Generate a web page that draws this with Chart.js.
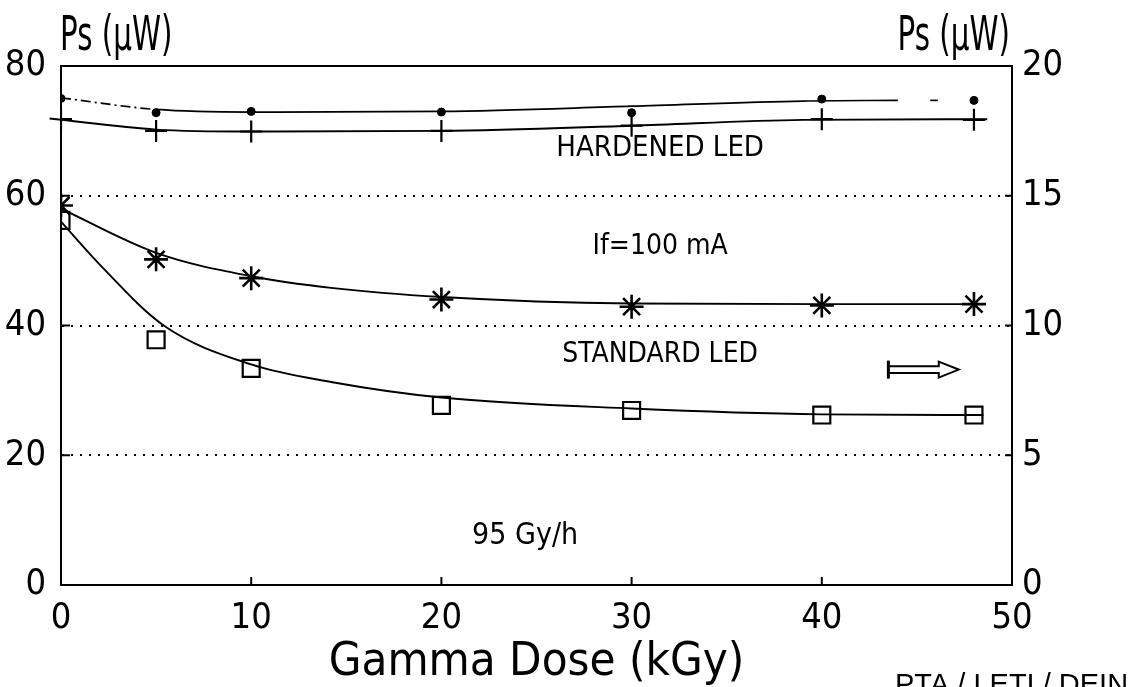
<!DOCTYPE html>
<html><head><meta charset="utf-8">
<script src="https://cdn.jsdelivr.net/npm/chart.js@4/dist/chart.umd.min.js"></script>
<style>html,body{margin:0;padding:0;background:#fff;overflow:hidden}#wrap{width:1128px;height:687px;position:relative}</style>
</head><body><div id="wrap"><canvas id="c" width="1128" height="687"></canvas></div>
<script>
// ---- data ----
const doseKGy = [0, 5, 10, 20, 30, 40, 48];
const hardenedDots = [75.0, 72.8, 73.0, 72.9, 72.8, 74.9, 74.7];
const hardenedCross = [71.8, 70.0, 69.9, 70.0, 70.8, 71.8, 71.7];
const standardStar = [58.5, 50.2, 47.3, 44.0, 42.9, 43.1, 43.3];
const standardSquare = [56.2, 37.8, 33.4, 27.7, 26.9, 26.2, 26.2];

const hardUpperFitX = [0, 5, 10, 20, 30, 39, 44, 45, 45.7, 46.1];
const hardUpperFitY = [75.1, 73.3, 72.9, 73.0, 73.8, 74.6, 74.7, null, 74.7, 74.7];
const hardLowerFitX = [-0.6, 5, 10, 20, 30, 39, 48.7];
const hardLowerFitY = [71.9, 70.2, 69.9, 70.0, 70.8, 71.7, 71.8];
const starFitX = [0, 5, 10, 14.2, 20, 30, 40, 48.5];
const starFitY = [58.0, 51.2, 47.6, 45.8, 44.4, 43.4, 43.3, 43.3];
const squareFitX = [0, 2, 5.4, 10, 14.2, 20, 30, 40, 48.5];
const squareFitY = [56.0, 49.5, 40.0, 34.0, 31.3, 28.9, 27.2, 26.3, 26.2];

const leftTicks = [0, 20, 40, 60, 80];
const rightTicks = [0, 5, 10, 15, 20];
const xTicks = [0, 10, 20, 30, 40, 50];
const xTitle = 'Gamma Dose (kGy)';
const yTitle = 'Ps (µW)';
const notes = ['HARDENED LED', 'If=100 mA', 'STANDARD LED', '95 Gy/h'];
const noteAt = [[31.5, 67.3], [31.5, 52.2], [31.5, 35.5], [24.4, 7.5]];
const arrowFrom = [43.5, 33.2];
const arrowTo = [47.2, 33.2];
const footer = 'PTA / LETI / DEIN';

const NARROW = "'Liberation Sans Narrow', 'DejaVu Sans Condensed', 'Arial Narrow', sans-serif";
const pts = (xs, ys) => xs.map((x, i) => ({x, y: ys[i]}));

const fitStyle = {pointRadius: 0, borderColor: '#000', borderWidth: 1.9, cubicInterpolationMode: 'monotone', spanGaps: false, fill: false};
const markStyle = {showLine: false, borderColor: '#000', backgroundColor: '#000'};

const extras = {
  id: 'extras',
  afterDraw(chart) {
    const {ctx, chartArea: ca, scales} = chart;
    const xs = scales.x, yl = scales.y, yr = scales.y1;
    ctx.save();
    ctx.strokeStyle = '#000'; ctx.fillStyle = '#000';
    // top frame
    ctx.lineWidth = 2;
    ctx.beginPath(); ctx.moveTo(ca.left - 1, ca.top); ctx.lineTo(ca.right + 1, ca.top); ctx.stroke();
    // inward ticks
    xs.ticks.forEach(t => { const p = xs.getPixelForValue(t.value); ctx.beginPath(); ctx.moveTo(p, ca.bottom); ctx.lineTo(p, ca.bottom - 8); ctx.stroke(); });
    yl.ticks.forEach(t => { const p = yl.getPixelForValue(t.value); ctx.beginPath(); ctx.moveTo(ca.left, p); ctx.lineTo(ca.left + 9, p); ctx.stroke(); });
    yr.ticks.forEach(t => { const p = yr.getPixelForValue(t.value); ctx.beginPath(); ctx.moveTo(ca.right, p); ctx.lineTo(ca.right - 7, p); ctx.stroke(); });
    // axis unit labels
    ctx.textBaseline = 'alphabetic';
    ctx.font = '48px ' + NARROW;
    ctx.save(); ctx.translate(ca.left - 1, 50); ctx.scale(0.68, 1);
    ctx.textAlign = 'left'; ctx.fillText(yTitle, 0, 0); ctx.restore();
    ctx.save(); ctx.translate(ca.right - 2, 50); ctx.scale(0.68, 1);
    ctx.textAlign = 'right'; ctx.fillText(yTitle, 0, 0); ctx.restore();
    // notes
    ctx.textAlign = 'center'; ctx.textBaseline = 'middle';
    const sizes = [29, 28, 28, 30];
    notes.forEach((n, i) => {
      ctx.font = sizes[i] + 'px ' + NARROW;
      ctx.fillText(n, xs.getPixelForValue(noteAt[i][0]), yl.getPixelForValue(noteAt[i][1]));
    });
    // hollow arrow
    const x0 = xs.getPixelForValue(arrowFrom[0]), xt = xs.getPixelForValue(arrowTo[0]);
    const yc = yl.getPixelForValue(arrowFrom[1]);
    const xh = xt - 20;
    ctx.lineWidth = 2;
    ctx.beginPath();
    ctx.moveTo(x0, yc - 3.3); ctx.lineTo(xh, yc - 3.3); ctx.lineTo(xh, yc - 8);
    ctx.lineTo(xt, yc); ctx.lineTo(xh, yc + 8); ctx.lineTo(xh, yc + 3.3); ctx.lineTo(x0, yc + 3.3);
    ctx.stroke();
    ctx.lineWidth = 3;
    ctx.beginPath(); ctx.moveTo(x0, yc - 9); ctx.lineTo(x0, yc + 9); ctx.stroke();
    // footer (cut at bottom edge)
    ctx.textAlign = 'left'; ctx.textBaseline = 'alphabetic';
    ctx.font = '29px "Liberation Sans", Arial, sans-serif';
    ctx.fillText(footer, 895, 694);
    ctx.restore();
  }
};

new Chart(document.getElementById('c'), {
  type: 'line',
  data: {
    datasets: [
      {...fitStyle, data: pts(hardUpperFitX, hardUpperFitY), borderWidth: 1.7,
        segment: {borderDash: c => c.p0DataIndex === 0 ? [10, 4, 2, 4] : undefined}},
      {...fitStyle, data: pts(hardLowerFitX, hardLowerFitY), clip: false},
      {...fitStyle, data: pts(starFitX, starFitY)},
      {...fitStyle, data: pts(squareFitX, squareFitY)},
      {...markStyle, data: pts(doseKGy, hardenedDots), pointStyle: 'circle', pointRadius: 4},
      {...markStyle, data: pts(doseKGy, hardenedCross), pointStyle: 'cross', pointRadius: 11, pointBorderWidth: 2.2},
      {...markStyle, data: pts(doseKGy, standardStar), pointStyle: 'star', pointRadius: 12, pointBorderWidth: 2.6},
      {...markStyle, data: pts(doseKGy, standardSquare), pointStyle: 'rect', pointRadius: 12, pointBorderWidth: 2.2, backgroundColor: 'rgba(0,0,0,0)'}
    ]
  },
  options: {
    responsive: false, animation: false, devicePixelRatio: 1,
    layout: {padding: {top: 66, left: 0, right: 0, bottom: 0}},
    plugins: {legend: {display: false}, tooltip: {enabled: false}},
    scales: {
      x: {
        type: 'linear', position: 'bottom', min: 0, max: 50,
        afterBuildTicks: s => { s.ticks = xTicks.map(v => ({value: v})); },
        afterFit: s => { s.height = 102; },
        ticks: {color: '#000', font: {family: NARROW, size: 36}, padding: 12, maxRotation: 0},
        grid: {display: false, drawTicks: false},
        border: {display: true, color: '#000', width: 2},
        title: {display: true, text: xTitle, color: '#000', font: {family: NARROW, size: 47, lineHeight: 1}, padding: {top: 0, bottom: 1}}
      },
      y: {
        type: 'linear', position: 'left', min: 0, max: 80,
        afterBuildTicks: s => { s.ticks = leftTicks.map(v => ({value: v})); },
        afterFit: s => { s.width = 61; },
        ticks: {color: '#000', font: {family: NARROW, size: 36}, padding: 15},
        grid: {drawTicks: false, lineWidth: 2,
          color: c => (c.tick && c.tick.value > 0 && c.tick.value < 80) ? '#000' : 'rgba(0,0,0,0)'},
        border: {display: true, color: '#000', width: 2, dash: [2, 7]}
      },
      y1: {
        type: 'linear', position: 'right', min: 0, max: 20,
        afterBuildTicks: s => { s.ticks = rightTicks.map(v => ({value: v})); },
        afterFit: s => { s.width = 116; },
        ticks: {color: '#000', font: {family: NARROW, size: 36}, padding: 10},
        grid: {drawOnChartArea: false, drawTicks: false},
        border: {display: true, color: '#000', width: 2}
      }
    }
  },
  plugins: [extras]
});
</script>
</body></html>
